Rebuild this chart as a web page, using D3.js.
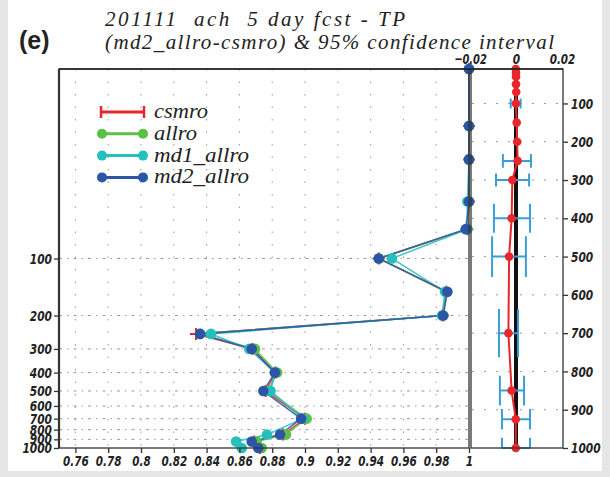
<!DOCTYPE html>
<html><head><meta charset="utf-8">
<script src="https://cdn.jsdelivr.net/npm/d3@7"></script>
<style>
html,body{margin:0;padding:0;background:#e6e6e6;}
svg{display:block;}
.tk text{font-family:"DejaVu Sans",sans-serif;font-weight:bold;font-style:italic;font-size:14.5px;fill:#222;}
</style></head>
<body>
<script>
// ---------- data ----------
const levels = [10,20,30,50,70,100,150,200,250,300,400,500,700,850,925,1000];
const seriesNames = ["csmro","allro","md1_allro","md2_allro"];
const csmro     = [1,1,1,1,0.999,0.945,0.986,0.984,0.8335,0.868,0.882,0.876,0.900,0.8866,0.869,0.8725];
const allro     = [1,1,1,1,0.999,0.945,0.9865,0.984,0.836,0.8695,0.883,0.8775,0.901,0.8884,0.8705,0.8736];
const md1_allro = [1,1,1,0.999,0.999,0.953,0.9854,0.9835,0.8427,0.866,0.8817,0.879,0.8985,0.8768,0.858,0.8614];
const md2_allro = [1,1,1,1,0.998,0.945,0.9868,0.9843,0.836,0.8675,0.8817,0.8746,0.8976,0.8848,0.8675,0.8715];
// difference md2_allro - csmro and 95% confidence interval
const diffMean = [-0.0001,0,0,0,0.0001,0,0.0003,0.0005,0.0007,-0.0016,-0.0019,-0.003,-0.0033,-0.0019,-0.0001,-0.0001];
const ciLevels = [100,150,200,250,300,400,500,700,850,925,1000];
const ciLow    = [-0.0023,-0.0001,0.0000,-0.0057,-0.0087,-0.0096,-0.0104,-0.0074,-0.0070,-0.0061,-0.0061];
const ciHigh   = [0.0020,0.0009,0.0011,0.0065,0.0057,0.0061,0.0043,0.0009,0.0035,0.0061,0.0061];
const ciCap    = [13,3,3,18,17,38,53,63,39,27,27];   // cap half-height (hPa)
const xTicksL = [0.76,0.78,0.8,0.82,0.84,0.86,0.88,0.9,0.92,0.94,0.96,0.98,1];
const yTicks  = [100,200,300,400,500,600,700,800,900,1000];
const xTicksR = [-0.02,0,0.02];
const titleLines = ["201111  ach  5 day fcst - TP","(md2_allro-csmro) & 95% confidence interval"];
const panelLabel = "(e)";
const colors = ["#e8262b","#5cbf48","#25c0bd","#2b56a8"];

// ---------- layout ----------
const W=610,H=477;
const svg=d3.select("body").append("svg").attr("width",W).attr("height",H);
svg.append("rect").attr("x",8).attr("y",0).attr("width",594).attr("height",471).attr("fill","#fff");

const xL=d3.scaleLinear([0.75,1],[59,469]);
const yL=d3.scaleLog([10,1000],[69,448]);
const xR=d3.scaleLinear([-0.02,0.02],[470,562]);
const yR=d3.scaleLinear([10,1000],[69,448]);

// grid main
const g=svg.append("g");
g.selectAll(".vg").data(xTicksL.slice(0,-1)).join("line")
 .attr("x1",d=>xL(d)).attr("x2",d=>xL(d)).attr("y1",69).attr("y2",448)
 .attr("stroke","#999").attr("stroke-width",1).attr("stroke-dasharray","1.5,11");
g.selectAll(".hg").data(yTicks.slice(0,-1)).join("line")
 .attr("x1",59).attr("x2",469).attr("y1",d=>yL(d)).attr("y2",d=>yL(d))
 .attr("stroke","#999").attr("stroke-width",1).attr("stroke-dasharray","3,5,1.5,5");
// grid right
g.selectAll(".hgr").data(yTicks.slice(0,-1)).join("line")
 .attr("x1",472).attr("x2",561).attr("y1",d=>yR(d)).attr("y2",d=>yR(d))
 .attr("stroke","#999").attr("stroke-width",1).attr("stroke-dasharray","2,10");

// main series
const all=[csmro,allro,md1_allro,md2_allro];
const line=d3.line().x(d=>xL(d[0])).y(d=>yL(d[1]));
all.forEach((s,i)=>{
  const pts=s.map((v,j)=>[v,levels[j]]);
  svg.append("path").datum(pts).attr("d",line).attr("fill","none")
    .attr("stroke",colors[i]).attr("stroke-width",1.6).attr("stroke-opacity",0.85);
});
all.forEach((s,i)=>{
  const pts=s.map((v,j)=>[v,levels[j]]);
  if(i===0){
    const gp=svg.append("g");
    pts.forEach(p=>{
      const x=xL(p[0]),y=yL(p[1]);
      gp.append("path").attr("d",`M${x-6},${y}H${x+6}M${x},${y-6}V${y+6}`)
        .attr("stroke",colors[0]).attr("stroke-width",2);
    });
  } else {
    svg.append("g").selectAll("circle").data(pts).join("circle")
      .attr("cx",d=>xL(d[0])).attr("cy",d=>yL(d[1])).attr("r",5.3).attr("fill",colors[i]);
  }
});

// right panel: zero line, CI, mean
svg.append("line").attr("x1",xR(0)).attr("x2",xR(0)).attr("y1",69).attr("y2",448)
  .attr("stroke","#111").attr("stroke-width",4);
const ci=svg.append("g").attr("stroke","#3a9fd6").attr("stroke-width",2).attr("fill","none");
ciLevels.forEach((p,i)=>{
  const y=yR(p), a=xR(ciLow[i]), b=xR(ciHigh[i]);
  const y1=yR(p-ciCap[i]), y2=Math.min(yR(p+ciCap[i]),448);
  ci.append("path").attr("d",`M${a},${y}H${b}M${a},${y1}V${y2}M${b},${y1}V${y2}`);
});
const mpts=diffMean.map((v,j)=>[v,levels[j]]);
svg.append("path").datum(mpts).attr("d",d3.line().x(d=>xR(d[0])).y(d=>yR(d[1])))
  .attr("fill","none").attr("stroke","#e8262b").attr("stroke-width",2);
svg.append("g").selectAll("circle").data(mpts).join("circle")
  .attr("cx",d=>xR(d[0])).attr("cy",d=>yR(d[1])).attr("r",4.3).attr("fill","#e8262b");

// frames
svg.append("rect").attr("x",59).attr("y",69).attr("width",410).attr("height",379)
  .attr("fill","none").attr("stroke","#333").attr("stroke-width",1.3);
svg.append("line").attr("x1",59).attr("x2",59).attr("y1",69).attr("y2",448).attr("stroke","#333").attr("stroke-width",2.2);
svg.append("rect").attr("x",471).attr("y",69).attr("width",92).attr("height",379)
  .attr("fill","none").attr("stroke","#333").attr("stroke-width",1.3);
svg.append("line").attr("x1",59).attr("x2",563).attr("y1",69).attr("y2",69).attr("stroke","#222").attr("stroke-width",1.4);

// axes
const ax1=svg.append("g").attr("transform","translate(0,448)")
  .call(d3.axisBottom(xL).tickValues(xTicksL).tickFormat(d=>String(+d.toFixed(2))).tickSize(5).tickPadding(3));
const ax2=svg.append("g").attr("transform","translate(59,0)")
  .call(d3.axisLeft(yL).tickValues(yTicks).tickFormat(d=>String(d)).tickSize(5).tickPadding(2));
const ax3=svg.append("g").attr("transform","translate(563,0)")
  .call(d3.axisRight(yR).tickValues(yTicks).tickFormat(d=>String(d)).tickSize(5).tickPadding(3));
const ax4=svg.append("g").attr("transform","translate(0,69)")
  .call(d3.axisTop(xR).tickValues(xTicksR).tickFormat(d=>d===0?"0":(d<0?"\u2212":"")+Math.abs(d).toFixed(2)).tickSize(0).tickPadding(5));
// condensed look: fit each label to a narrow width
const labW=s=>{let w=0;for(const c of s){w+= c==="."?3.5:(c==="\u2212"?7:7.4);}return w;};
[ax1,ax2,ax3,ax4].forEach(a=>{
  a.attr("class","tk").attr("font-size",null).attr("font-family",null);
  a.select(".domain").remove();
  a.selectAll("line").attr("stroke","#333").attr("stroke-width",1.3);
  a.selectAll("text").each(function(){const t=d3.select(this);t.attr("textLength",labW(t.text())).attr("lengthAdjust","spacingAndGlyphs");});
});

// legend
const legendLen=[54,43,95,95];
const lg=svg.append("g");
seriesNames.forEach((n,i)=>{
  const y=112+i*21.8;
  lg.append("line").attr("x1",101).attr("x2",144).attr("y1",y).attr("y2",y).attr("stroke",colors[i]).attr("stroke-width",3);
  if(i===0){
    lg.append("path").attr("d",`M101,${y-6}V${y+6}M144,${y-6}V${y+6}`).attr("stroke",colors[0]).attr("stroke-width",2.5);
  } else {
    lg.append("circle").attr("cx",102).attr("cy",y).attr("r",5).attr("fill",colors[i]);
    lg.append("circle").attr("cx",143).attr("cy",y).attr("r",5).attr("fill",colors[i]);
  }
  lg.append("text").attr("x",154).attr("y",y+6).text(n)
    .attr("textLength",legendLen[i]).attr("lengthAdjust","spacingAndGlyphs")
    .attr("font-family","'Liberation Serif',serif").attr("font-style","italic").attr("font-size",21).attr("fill","#222");
});

// titles
svg.append("text").attr("x",105).attr("y",26).text(titleLines[0]).style("white-space","pre")
  .attr("textLength",300).attr("lengthAdjust","spacing")
  .attr("font-family","'Liberation Serif',serif").attr("font-style","italic").attr("font-size",21).attr("fill","#222");
svg.append("text").attr("x",105).attr("y",49).text(titleLines[1]).style("white-space","pre")
  .attr("textLength",449).attr("lengthAdjust","spacing")
  .attr("font-family","'Liberation Serif',serif").attr("font-style","italic").attr("font-size",21).attr("fill","#222");
svg.append("text").attr("x",19).attr("y",49).text(panelLabel)
  .attr("font-family","'Liberation Sans',Arial,sans-serif").attr("font-weight","bold").attr("font-size",25).attr("fill","#222");
</script>
</body></html>
